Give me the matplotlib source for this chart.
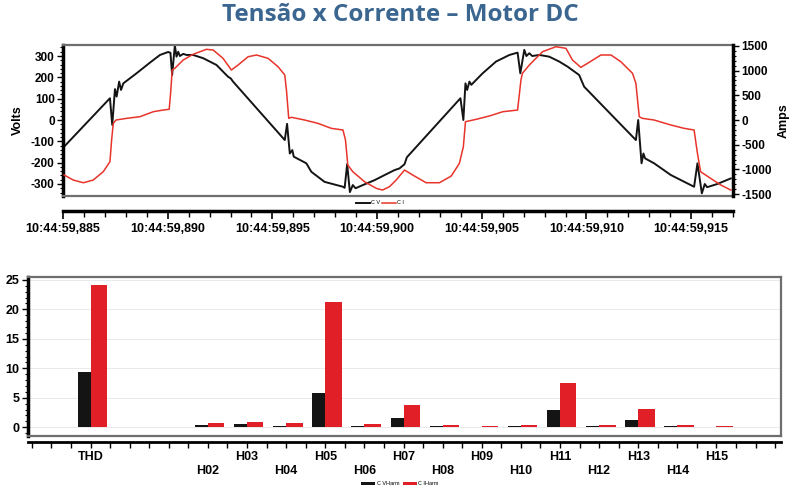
import numpy as np
import matplotlib
matplotlib.use('Agg')
import matplotlib.pyplot as plt
from matplotlib.ticker import MultipleLocator, FuncFormatter

# 数据：时间 (ms, 10:44:59,xxx) 与电压/电流
t_v = [885.05, 887.24, 887.35, 887.48, 887.56, 887.68, 887.77, 887.88, 888.51, 889.15,
       889.63, 890.02, 890.13, 890.21, 890.34, 890.42, 890.50, 890.58, 890.74, 890.90,
       891.21, 891.69, 892.33, 892.88, 893.01, 893.12, 895.59, 895.70, 895.83, 895.95,
       896.02, 896.62, 896.86, 897.49, 898.37, 898.45, 898.57, 898.70, 898.84, 898.97,
       899.32, 899.88, 900.36, 900.83, 901.07, 901.31, 901.42, 903.98, 904.12, 904.22,
       904.30, 904.41, 904.50, 905.04, 905.68, 906.32, 906.71, 906.84, 907.03, 907.13,
       907.27, 907.41, 907.75, 908.22, 908.70, 909.10, 909.65, 909.89, 912.36, 912.47,
       912.63, 912.72, 912.80, 913.23, 914.03, 915.14, 915.30, 915.51, 915.65, 915.76,
       916.25, 916.89]
volts = [-125, 102, -23, 145, 110, 180, 141, 172, 219, 269,
         305, 319, 315, 211, 350, 297, 320, 300, 310, 305,
         305, 290, 258, 203, 195, 180, -94, -18, -157, -141,
         -172, -203, -243, -290, -313, -318, -207, -338, -305, -320,
         -305, -282, -258, -235, -227, -207, -175, 102, 0, 172,
         141, 180, 165, 219, 274, 305, 316, 219, 329, 300,
         313, 300, 305, 297, 274, 250, 211, 156, -94, 0,
         -203, -157, -180, -203, -258, -313, -203, -344, -300, -315,
         -300, -274]

t_i = [885.05, 885.49, 885.97, 886.44, 886.92, 887.24, 887.32, 887.40, 887.53, 888.04,
       888.67, 889.31, 889.78, 890.07, 890.15, 890.21, 890.34, 890.74, 891.21, 891.85,
       892.17, 892.64, 893.04, 893.36, 893.84, 894.24, 894.79, 895.27, 895.59, 895.67,
       895.78, 895.91, 896.54, 897.17, 897.81, 898.37, 898.49, 898.60, 898.84, 899.40,
       899.96, 900.26, 900.59, 900.91, 901.31, 901.70, 902.34, 902.98, 903.54, 903.93,
       904.12, 904.22, 904.73, 905.36, 906.00, 906.71, 906.87, 906.94, 907.27, 907.90,
       908.54, 909.02, 909.33, 909.73, 910.05, 910.69, 911.17, 911.64, 912.20, 912.36,
       912.52, 912.67, 913.23, 914.03, 914.66, 915.14, 915.30, 915.45, 915.93, 916.42,
       916.89]
amps = [-1113, -1215, -1269, -1215, -1046, -844, -405, -67, 0, 34,
        67, 168, 202, 217, 607, 1012, 1047, 1215, 1330, 1431,
        1417, 1249, 1012, 1113, 1281, 1316, 1249, 1079, 911, 607,
        34, 55, 0, -67, -168, -202, -405, -911, -1046, -1249,
        -1383, -1417, -1350, -1215, -1012, -1113, -1269, -1269, -1134, -877,
        -540, -34, 14, 81, 168, 202, 810, 945, 1113, 1383,
        1484, 1451, 1215, 1066, 1147, 1316, 1316, 1180, 945, 742,
        67, 34, 0, -101, -168, -202, -675, -1046, -1181, -1316,
        -1417]

# 谐波数据 (%)
harm_labels = ['THD', 'H02', 'H03', 'H04', 'H05', 'H06', 'H07', 'H08',
               'H09', 'H10', 'H11', 'H12', 'H13', 'H14', 'H15']
v_harm = [9.3, 0.3, 0.5, 0.15, 5.8, 0.15, 1.5, 0.12, 0.1, 0.15, 3.0, 0.2, 1.3, 0.12, 0.1]
i_harm = [24.1, 0.7, 0.95, 0.7, 21.2, 0.6, 3.8, 0.35, 0.2, 0.4, 7.5, 0.45, 3.15, 0.35, 0.2]
harm_pos = [0] + list(range(3, 17))

RED = '#e8342a'
BAR_RED = '#e01f26'
BLACK = '#141414'
GRAY = '#6e6e6e'

plt.rcParams['font.family'] = ['Liberation Sans', 'DejaVu Sans']
plt.rcParams['font.weight'] = 'bold'
plt.rcParams['axes.labelweight'] = 'bold'
plt.rcParams['axes.unicode_minus'] = False

fig = plt.figure(figsize=(8, 4.92), dpi=100)
fig.text(0.5, 0.97, 'Tensão x Corrente – Motor DC', ha='center', va='center',
         fontsize=17.5, fontweight='bold', color='#3b6690', family=['Open Sans', 'DejaVu Sans'])

# ---- 上图：电压/电流波形 ----
ax = fig.add_axes([0.0788, 0.6022, 0.8375, 0.3069])
ax2 = ax.twinx()
l1, = ax.plot(t_v, volts, color=BLACK, lw=1.4, label='C V')
l2, = ax2.plot(t_i, amps, color=RED, lw=1.1, label='C I')
ax.set_xlim(885, 917)
ax.set_ylim(-355, 353)
ax2.set_ylim(-1532, 1524)
ax.set_yticks([-300, -200, -100, 0, 100, 200, 300])
ax.yaxis.set_minor_locator(MultipleLocator(20))
ax2.set_yticks([-1500, -1000, -500, 0, 500, 1000, 1500])
ax2.yaxis.set_minor_locator(MultipleLocator(100))
ax.tick_params(axis='x', bottom=False, labelbottom=False)
ax.tick_params(axis='y', labelsize=8.5, length=4, width=1, pad=2)
ax.tick_params(axis='y', which='minor', length=2, width=0.8)
ax2.tick_params(axis='y', labelsize=8.5, length=4, width=1, pad=2)
ax2.tick_params(axis='y', which='minor', length=2, width=0.8)
for s in ['top', 'bottom']:
    ax.spines[s].set_color(GRAY)
    ax.spines[s].set_linewidth(1.6)
ax.spines['left'].set_linewidth(2.5)
ax.spines['right'].set_visible(False)
for s in ['top', 'bottom', 'left']:
    ax2.spines[s].set_visible(False)
ax2.spines['right'].set_linewidth(2.5)
ax.set_ylabel('Volts', fontsize=9, labelpad=5)
ax2.set_ylabel('Amps', fontsize=9, labelpad=4)

sec = ax.secondary_xaxis(-0.101)
sec.set_xticks([885, 890, 895, 900, 905, 910, 915])
sec.xaxis.set_minor_locator(MultipleLocator(1))
sec.xaxis.set_major_formatter(FuncFormatter(lambda x, p: '10:44:59,%03d' % int(round(x))))
sec.tick_params(axis='x', labelsize=9, length=6, width=1.2, pad=3)
sec.tick_params(axis='x', which='minor', length=4, width=1)
sec.spines['bottom'].set_linewidth(2.5)
ax.legend([l1, l2], ['C V', 'C I'], loc='center', bbox_to_anchor=(0.473, -0.048),
          ncol=2, frameon=False, handlelength=2.5, columnspacing=0.3,
          handletextpad=0.3, prop={'size': 4, 'weight': 'normal'})

# ---- 下图：谐波柱状图 ----
bx = fig.add_axes([0.035, 0.1138, 0.94125, 0.3232])
pos = np.array(harm_pos)
b1 = bx.bar(pos, v_harm, width=-0.33, align='edge', color=BLACK, zorder=3)
b2 = bx.bar(pos, i_harm, width=0.42, align='edge', color=BAR_RED, zorder=3)
bx.set_xlim(-1.6, 17.65)
bx.set_ylim(-1.5, 25.5)
bx.set_yticks([0, 5, 10, 15, 20, 25])
bx.yaxis.set_minor_locator(MultipleLocator(1))
bx.grid(axis='y', color='#e6e6e6', lw=0.6, zorder=0)
bx.tick_params(axis='x', bottom=False, labelbottom=False)
bx.tick_params(axis='y', labelsize=9, length=4, width=1, pad=2)
bx.tick_params(axis='y', which='minor', length=2, width=0.8)
for s in ['top', 'bottom', 'right']:
    bx.spines[s].set_color(GRAY)
    bx.spines[s].set_linewidth(1.6)
bx.spines['left'].set_linewidth(2.5)

sec2 = bx.secondary_xaxis(-0.036)
sec2.set_xticks(harm_pos)
sec2.set_xticklabels([lab if i % 2 == 0 else '\n' + lab for i, lab in enumerate(harm_labels)])
sec2.xaxis.set_minor_locator(MultipleLocator(0.5))
sec2.tick_params(axis='x', labelsize=9, length=4, width=1, pad=3)
sec2.tick_params(axis='x', which='minor', length=4, width=1)
sec2.spines['bottom'].set_linewidth(2)
bx.legend([b1, b2], ['C VHarm', 'C IHarm'], loc='center', bbox_to_anchor=(0.494, -0.30),
          ncol=2, frameon=False, handlelength=2.5, handleheight=0.5, columnspacing=0.6,
          handletextpad=0.3, prop={'size': 4, 'weight': 'normal'})

fig.savefig('out.png', dpi=100)
